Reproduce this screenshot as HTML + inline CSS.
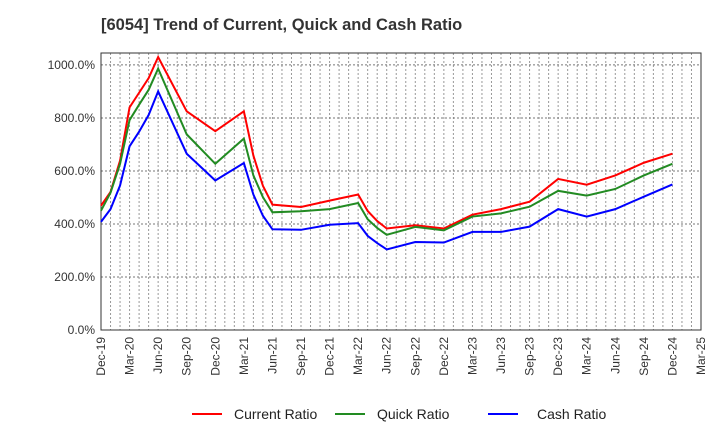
<!DOCTYPE html>
<html><head><meta charset="utf-8"><style>
body{margin:0;background:#fff;font-family:"Liberation Sans",Arial,sans-serif}
</style></head><body>
<svg id="c" width="720" height="440" xmlns="http://www.w3.org/2000/svg" font-family="Liberation Sans, Arial, sans-serif">
<text x="101" y="30" font-size="16.5" font-weight="bold" fill="#333">[6054]  Trend of Current, Quick and Cash Ratio</text>
<g id="grid"></g><g id="axes"></g><g id="series"></g>
<g>
<line x1="192" y1="414" x2="222" y2="414" stroke="#ff0000" stroke-width="2"/>
<text x="234" y="419" font-size="14" fill="#222">Current Ratio</text>
<line x1="335" y1="414" x2="365" y2="414" stroke="#228b22" stroke-width="2"/>
<text x="377" y="419" font-size="14" fill="#222">Quick Ratio</text>
<line x1="488" y1="414" x2="518" y2="414" stroke="#0000ff" stroke-width="2"/>
<text x="537" y="419" font-size="14" fill="#222">Cash Ratio</text>
</g>
</svg>
<script>
const months=[0,1,2,3,4,5,6,9,12,15,16,17,18,21,24,27,28,29,30,33,36,39,42,45,48,51,54,57,60];
const currentRatio=[469,521,639,840,895,950,1030,825,750,825,658,544,473,464,488,511,449,411,383,395,383,435,456,484,570,548,583,631,665];
const quickRatio=[450,518,627,792,850,906,986,738,627,722,583,501,444,448,456,479,418,385,359,389,376,428,440,465,525,507,532,583,627];
const cashRatio=[408,456,545,693,748,811,900,665,564,630,511,431,380,378,397,403,355,328,304,332,330,370,370,390,456,428,456,503,549];
const xTickLabels=["Dec-19","Mar-20","Jun-20","Sep-20","Dec-20","Mar-21","Jun-21","Sep-21","Dec-21","Mar-22","Jun-22","Sep-22","Dec-22","Mar-23","Jun-23","Sep-23","Dec-23","Mar-24","Jun-24","Sep-24","Dec-24","Mar-25"];
const yTicks=[0,200,400,600,800,1000];
const L=101,R=701,T=53,B=330,MMAX=63,YMAX=1045;
const xs=m=>L+(R-L)*m/MMAX, ys=v=>B-(B-T)*v/YMAX;
const NS="http://www.w3.org/2000/svg";
function mk(tag,attrs,parent){const e=document.createElementNS(NS,tag);for(const k in attrs)e.setAttribute(k,attrs[k]);parent.appendChild(e);return e;}
const grid=document.getElementById('grid'),axes=document.getElementById('axes'),ser=document.getElementById('series');
for(let m=1;m<MMAX;m++){const g=mk('line',{x1:xs(m),x2:xs(m),y1:T,y2:B,stroke:'#999','stroke-width':1,'stroke-dasharray':'2,2'},grid);

}
yTicks.forEach(v=>{if(v>0){const g=mk('line',{x1:L,x2:R,y1:ys(v),y2:ys(v),stroke:'#777','stroke-width':1,'stroke-dasharray':'2,2'},grid);

}
const t=mk('text',{x:L-6,y:ys(v)+4,'text-anchor':'end','font-size':12,fill:'#333'},axes);t.textContent=v.toFixed(1)+'%';

});
const fr=mk('rect',{x:L,y:T,width:R-L,height:B-T,fill:'none',stroke:'#333','stroke-width':1},axes);


xTickLabels.forEach((s,i)=>{const x=xs(i*3);const t=mk('text',{x:0,y:0,'text-anchor':'end','font-size':12,fill:'#333',transform:`translate(${x+4},${B+7}) rotate(-90)`},axes);t.textContent=s;

});
[[currentRatio,'#ff0000','current-ratio-line'],[quickRatio,'#228b22','quick-ratio-line'],[cashRatio,'#0000ff','cash-ratio-line']].forEach(([d,c,n])=>{
const p=mk('polyline',{points:d.map((v,i)=>xs(months[i])+','+ys(v)).join(' '),fill:'none',stroke:c,'stroke-width':2},ser);

});
</script>
</body></html>
